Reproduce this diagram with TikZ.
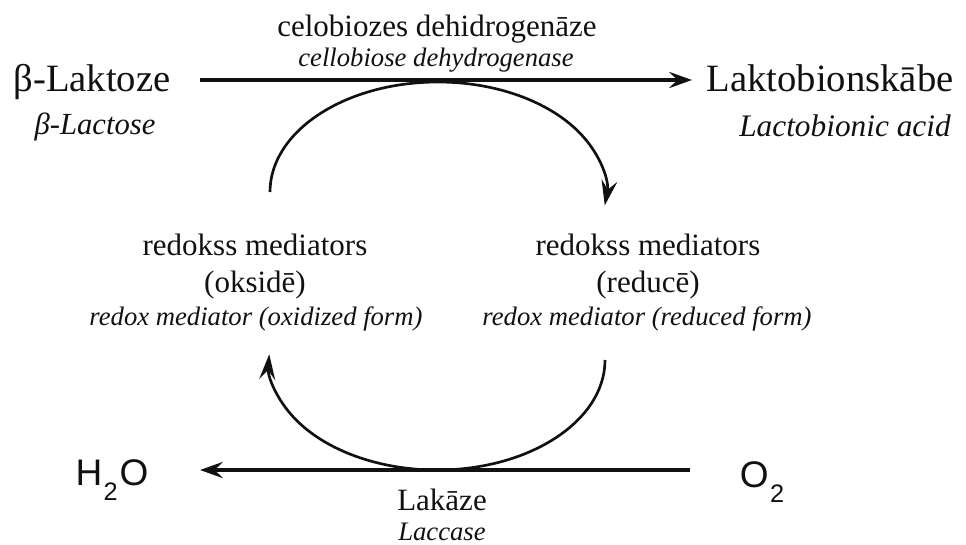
\documentclass[tikz,border=0pt]{standalone}
\usepackage{fontspec}
\setmainfont{Liberation Serif}
\setsansfont{Liberation Sans}
\usetikzlibrary{arrows.meta}
\definecolor{ink}{HTML}{111111}
\newcommand{\lowsub}[1]{\kern1pt\raisebox{-0.42em}{\fontsize{19}{19}\selectfont #1}\kern1.5pt}

\begin{document}
\begin{tikzpicture}[
  x=0.75pt,y=-0.75pt,
  every node/.style={inner sep=0pt,anchor=base,text=ink},
  compound/.style={font=\fontsize{29}{31}\selectfont},
  enzyme/.style={font=\fontsize{23.25}{25}\selectfont},
  gloss/.style={font=\itshape\fontsize{20}{22}\selectfont},
  chem/.style={font=\sffamily\fontsize{27.75}{30}\selectfont},
  flow/.style={draw=ink,line width=2.8pt,-{Stealth[length=17pt,width=12pt,inset=6pt]}},
  turn/.style={draw=ink,line width=2pt,-{Stealth[length=19pt,width=12pt,inset=7pt]}}
]
\useasboundingbox (0,0) rectangle (966,545);

% substrate and product
\node[compound] (lactose) at (92,92) {β-Laktoze};
\node[gloss,font=\itshape\fontsize{23}{25}\selectfont] (lactose-en) at (95,135) {β-Lactose};
\node[compound] (acid) at (830,92) {Laktobionskābe};
\node[gloss,font=\itshape\fontsize{23.5}{25}\selectfont] (acid-en) at (845,137) {Lactobionic acid};

% enzymes
\node[enzyme] (cdh) at (437,37) {celobiozes dehidrogenāze};
\node[gloss] (cdh-en) at (436,67) {cellobiose dehydrogenase};
\node[enzyme] (laccase) at (442,510) {Lakāze};
\node[gloss] (laccase-en) at (442,540) {Laccase};

% mediator
\node[enzyme] (ox) at (255,255) {redokss mediators};
\node[enzyme] (ox-form) at (255,292) {(oksidē)};
\node[gloss] (ox-en) at (256,325) {redox mediator (oxidized form)};
\node[enzyme] (red) at (648,255) {redokss mediators};
\node[enzyme] (red-form) at (648,292) {(reducē)};
\node[gloss] (red-en) at (647,325) {redox mediator (reduced form)};

% oxygen
\node[chem] (water) at (112,485) {H\lowsub{2}O};
\node[chem] (oxygen) at (763,487) {O\lowsub{2}};

\coordinate (cdh-in) at (200,80);
\coordinate (cdh-out) at (692,80);
\coordinate (lac-in) at (690,470);
\coordinate (lac-out) at (200,470);
\coordinate (ox-top) at (270,192);
\coordinate (red-bot) at (605,360);

\draw[flow] (cdh-in) -- (cdh-out);
\draw[flow] (lac-in) -- (lac-out);
\draw[turn] (ox-top) arc[start angle=180,end angle=367,x radius=168,y radius=110];
\draw[turn] (red-bot) arc[start angle=0,end angle=183,x radius=168,y radius=110];
\end{tikzpicture}
\end{document}
